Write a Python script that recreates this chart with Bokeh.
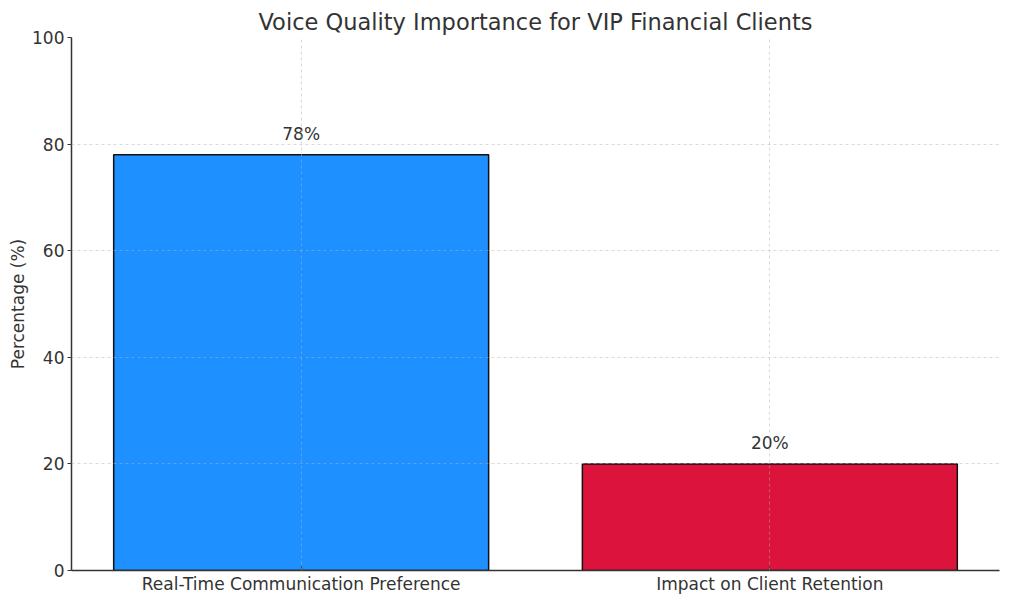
from bokeh.plotting import figure
from bokeh.models import Range1d, FixedTicker, ColumnDataSource, LabelSet
from bokeh.core.properties import value
from bokeh.embed import file_html
from bokeh.resources import INLINE

categories = ["Real-Time Communication Preference", "Impact on Client Retention"]
values = [78, 20]
colors = ["#1E90FF", "#DC143C"]
y_ticks = [0, 20, 40, 60, 80, 100]

FONT = "DejaVu Sans"
TXT = "#333333"

xs = list(range(len(categories)))
src = ColumnDataSource(dict(
    x=xs, top=values, color=colors,
    label_y=[v + 2 for v in values],
    label=[f"{v}%" for v in values],
))

p = figure(width=1009, height=602, output_backend="svg", toolbar_location=None,
           x_range=Range1d(-0.49, 1.49), y_range=Range1d(0, 100),
           min_border_left=71, min_border_right=10, min_border_top=37, min_border_bottom=32)

p.title.text = "Voice Quality Importance for VIP Financial Clients"
p.title.align = "center"
p.title.text_font = FONT
p.title.text_font_size = "22.5px"
p.title.text_font_style = "normal"
p.title.text_color = TXT
p.title.offset = 0
p.title.standoff = 6

p.vbar(x="x", top="top", bottom=0, width=0.8, fill_color="color",
       line_color="#111111", line_width=1.5, source=src)

labels = LabelSet(x="x", y="label_y", text="label", source=src,
                  text_align="center", text_baseline="bottom",
                  text_font=value(FONT), text_font_size=value("17px"), text_color=TXT)
p.add_layout(labels)

p.xaxis.ticker = FixedTicker(ticks=xs)
p.xaxis.major_label_overrides = {i: c for i, c in enumerate(categories)}
p.yaxis.ticker = FixedTicker(ticks=y_ticks)
p.yaxis.axis_label = "Percentage (%)"

for ax in (p.xaxis, p.yaxis):
    ax.major_label_text_font = FONT
    ax.major_label_text_font_size = "17px"
    ax.major_label_text_color = TXT
    ax.axis_line_color = "#333333"
    ax.axis_line_width = 1.5
    ax.major_tick_line_color = "#333333"
    ax.major_tick_line_width = 1.2
    ax.minor_tick_line_color = None
    ax.axis_label_text_font = FONT
    ax.axis_label_text_font_size = "17px"
    ax.axis_label_text_font_style = "normal"
    ax.axis_label_text_color = TXT

p.xaxis.major_tick_in = 4
p.xaxis.major_tick_out = 0
p.yaxis.major_tick_in = 0
p.yaxis.major_tick_out = 4
p.xaxis.major_label_standoff = 3
p.yaxis.major_label_standoff = 3
p.yaxis.axis_label_standoff = 1

for g in (p.xgrid, p.ygrid):
    g.grid_line_color = "#b0b0b0"
    g.grid_line_alpha = 0.6
    g.grid_line_dash = "3 3"
    g.grid_line_width = 0.8
    g.level = "overlay"

p.outline_line_color = None
p.background_fill_color = "white"
p.border_fill_color = "white"

open("out.html", "w").write(file_html(p, INLINE))
